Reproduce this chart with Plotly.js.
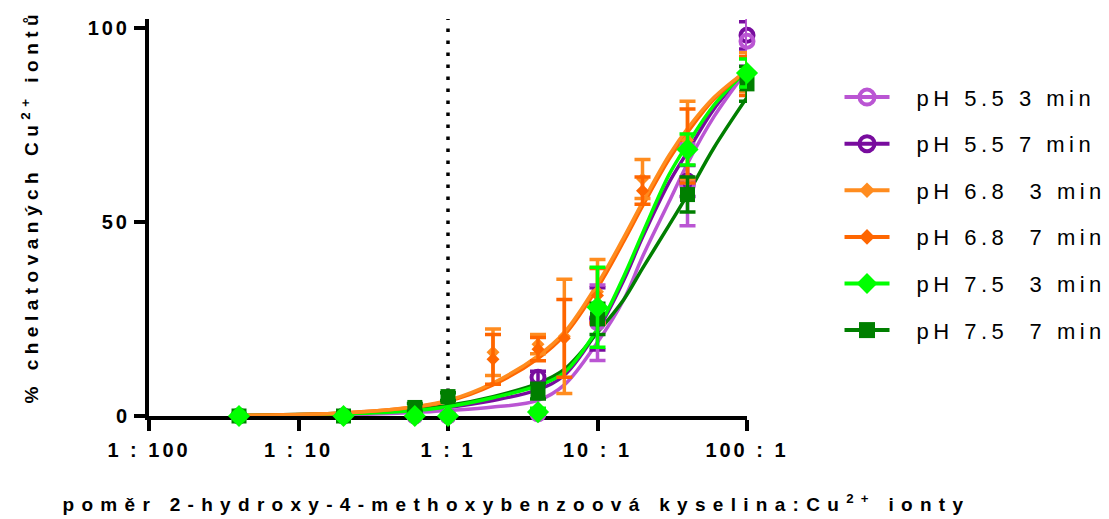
<!DOCTYPE html>
<html>
<head>
<meta charset="utf-8">
<script src="https://cdn.plot.ly/plotly-3.0.1.min.js"></script>
<style>
  html, body { margin: 0; padding: 0; background: #fff; }
  #chart { width: 1109px; height: 519px; }
  .xtick text, .ytick text { letter-spacing: 3px; }
  .annotation[data-index="0"] text { letter-spacing: 7.3px; }
  .annotation[data-index="1"] text { letter-spacing: 5.5px; }
  .legendtext { letter-spacing: 4.5px; transform: translateX(22px); }
  .legend .scrollbox, .legend { clip-path: none !important; }
</style>
</head>
<body>
<div id="chart"></div>
<script>
// ---- data ----
const seriesNames = ['pH 5.5 3 min', 'pH 5.5 7 min', 'pH 6.8\u00a0 3 min', 'pH 6.8\u00a0 7 min', 'pH 7.5\u00a0 3 min', 'pH 7.5\u00a0 7 min'];

// measured ratios (ligand : Cu2+)
const ratioMain = [0.04, 0.2, 0.6, 1, 4, 10, 40, 100];
const ratioOrange = [0.04, 0.2, 0.6, 1, 2, 4, 6, 10, 20, 40, 100];

// mean % chelated and error (SD)
const pH55_3min = [0, 0, 0, 0, 0.5, 24, 59.5, 96.5];
const pH55_3min_err = [0, 0, 0, 0, 0.5, 9.7, 10.5, 6.4];
const pH55_7min = [0, 0, 0, 0, 10, 25, 60.5, 98];
const pH55_7min_err = [0, 0, 0, 0, 1.5, 8, 4, 3.5];
const pH68_3min = [0, 0, 0, 0, 16.4, 18.5, 20.5, 32, 61, 71, 88.5];
const pH68_3min_err = [0, 0, 0, 0, 6, 2.5, 14.7, 8.3, 5, 10, 5];
const pH68_7min = [0, 0, 0, 0, 14.6, 17.2, 20, 31, 58, 69.5, 87.5];
const pH68_7min_err = [0, 0, 0, 0, 6.4, 3, 10, 7, 3.5, 9.5, 5];
const pH75_3min = [0, 0, 0, 0, 1, 28, 68.6, 88.3];
const pH75_3min_err = [0, 0, 0, 0, 1, 10.3, 4, 3.6];
const pH75_7min = [0, 0, 2.2, 5, 6.4, 25, 57, 85.5];
const pH75_7min_err = [0, 0, 1, 1, 2, 4, 4.5, 4.5];

// fitted curves
const curveRatio = [0.04, 0.2, 0.6, 1, 2, 4, 6, 10, 15, 20, 30, 40, 60, 100];
const fit55_3 = [0.05, 0.3, 0.9, 1.4, 2.3, 4.0, 8.0, 19, 30, 41, 55, 65, 77, 89];
const fit55_7 = [0.1, 0.5, 1.4, 2.2, 4.0, 6.8, 10.5, 22, 35, 46, 60, 68, 79, 89];
const fit68_3 = [0.15, 0.8, 2.4, 4.0, 8.5, 15.5, 21.5, 34, 46, 55, 67, 74, 82, 89];
const fit68_7 = [0.15, 0.8, 2.3, 3.8, 8.0, 14.8, 20.8, 33, 45, 54, 66, 73, 81.5, 89];
const fit75_3 = [0.1, 0.5, 1.4, 2.4, 4.7, 7.8, 11.2, 22.5, 36, 47, 62, 70, 80, 89];
const fit75_7 = [0.15, 0.7, 1.8, 2.7, 5.0, 8.4, 12, 21.5, 30, 38, 49, 57, 69, 82];

const xTickVals = [0.01, 0.1, 1, 10, 100];
const xTickText = ['1 : 100', '1 : 10', '1 : 1', '10 : 1', '100 : 1'];
const yTickVals = [0, 50, 100];
const equimolarRatio = 1;

// ---- styles ----
const colors = ['#BA55D3', '#780C9E', '#FF8C1F', '#FF6600', '#00FF00', '#007F00'];
const symbols = ['circle-open', 'circle-open', 'diamond', 'diamond', 'diamond', 'square'];
const sizes = [13, 13, 10, 10, 17, 15];

function pts(x, y, err, i) {
  return {
    x: x, y: y, type: 'scatter', mode: 'markers', showlegend: false, cliponaxis: false,
    marker: {color: colors[i], symbol: symbols[i], size: sizes[i],
             line: {color: colors[i], width: symbols[i] === 'circle-open' ? 4 : 0}},
    error_y: {type: 'data', array: err, visible: true, color: colors[i], thickness: 3.5, width: 8},
    hoverinfo: 'skip'
  };
}
function curve(y, i) {
  return {
    x: curveRatio, y: y, type: 'scatter', mode: 'lines', showlegend: false, cliponaxis: false,
    line: {color: colors[i], width: 3.5, shape: 'spline', smoothing: 1}, hoverinfo: 'skip'
  };
}
function legendItem(i) {
  return {
    x: [null], y: [null], type: 'scatter', mode: 'lines+markers', name: seriesNames[i],
    legendgroup: 'g' + i, showlegend: true,
    marker: {color: colors[i], symbol: symbols[i], size: sizes[i] + 2,
             line: {color: colors[i], width: symbols[i] === 'circle-open' ? 4 : 0}},
    line: {color: colors[i], width: 4}
  };
}

const data = [
  curve(fit55_7, 1), curve(fit55_3, 0), curve(fit75_7, 5), curve(fit75_3, 4), curve(fit68_7, 3), curve(fit68_3, 2),
  pts(ratioMain, pH55_7min, pH55_7min_err, 1),
  pts(ratioMain, pH55_3min, pH55_3min_err, 0),
  pts(ratioOrange, pH68_3min, pH68_3min_err, 2),
  pts(ratioOrange, pH68_7min, pH68_7min_err, 3),
  pts(ratioMain, pH75_7min, pH75_7min_err, 5),
  pts(ratioMain, pH75_3min, pH75_3min_err, 4),
  legendItem(0), legendItem(1), legendItem(2), legendItem(3), legendItem(4), legendItem(5)
];

const tickFont = {family: 'Liberation Sans, Arial, sans-serif', size: 20, color: '#000', weight: 'bold'};

const layout = {
  width: 1109, height: 519,
  margin: {l: 149, r: 362, t: 19, b: 103, pad: 0},
  paper_bgcolor: '#fff', plot_bgcolor: '#fff',
  showlegend: true,
  xaxis: {
    type: 'log', range: [-2, 2], tickvals: xTickVals, ticktext: xTickText,
    showgrid: false, zeroline: false, showline: true, linewidth: 4, linecolor: '#000',
    ticks: 'outside', ticklen: 11, tickwidth: 4, tickcolor: '#000',
    tickfont: tickFont, ticklabelstandoff: 2, layer: 'below traces', fixedrange: true
  },
  yaxis: {
    range: [0, 102.2], tickvals: yTickVals,
    showgrid: false, zeroline: false, showline: true, linewidth: 4, linecolor: '#000',
    ticks: 'outside', ticklen: 11, tickwidth: 4, tickcolor: '#000',
    tickfont: tickFont, ticklabelstandoff: 0, layer: 'below traces', fixedrange: true
  },
  shapes: [{
    type: 'line', xref: 'x', yref: 'paper', x0: equimolarRatio, x1: equimolarRatio, y0: 0, y1: 1,
    line: {color: '#000', width: 3.5, dash: '3.5px,8.5px'}, layer: 'below'
  }],
  annotations: [
    {text: 'poměr 2-hydroxy-4-methoxybenzoová kyselina:Cu<sup>2+</sup> ionty',
     xref: 'paper', yref: 'paper', x: 0.615, y: -0.22, xanchor: 'center', yanchor: 'middle',
     showarrow: false, font: {family: 'Liberation Sans, Arial, sans-serif', size: 19, color: '#000', weight: 'bold'}},
    {text: '% chelatovaných Cu<sup>2+</sup> iontů',
     xref: 'paper', yref: 'paper', x: -0.2, y: 0.53, xanchor: 'center', yanchor: 'middle', textangle: -90,
     showarrow: false, font: {family: 'Liberation Sans, Arial, sans-serif', size: 19, color: '#000', weight: 'bold'}}
  ],
  legend: {
    xref: 'container', yref: 'container', x: 0.757, y: 0.853, xanchor: 'left', yanchor: 'top',
    bgcolor: 'rgba(0,0,0,0)', borderwidth: 0, traceorder: 'grouped', tracegroupgap: 15,
    itemwidth: 45, maxheight: 1,
    font: {family: 'Liberation Sans, Arial, sans-serif', size: 22, color: '#000'}
  },
  hovermode: false
};

Plotly.newPlot('chart', data, layout, {staticPlot: true, displayModeBar: false});
</script>
</body>
</html>
